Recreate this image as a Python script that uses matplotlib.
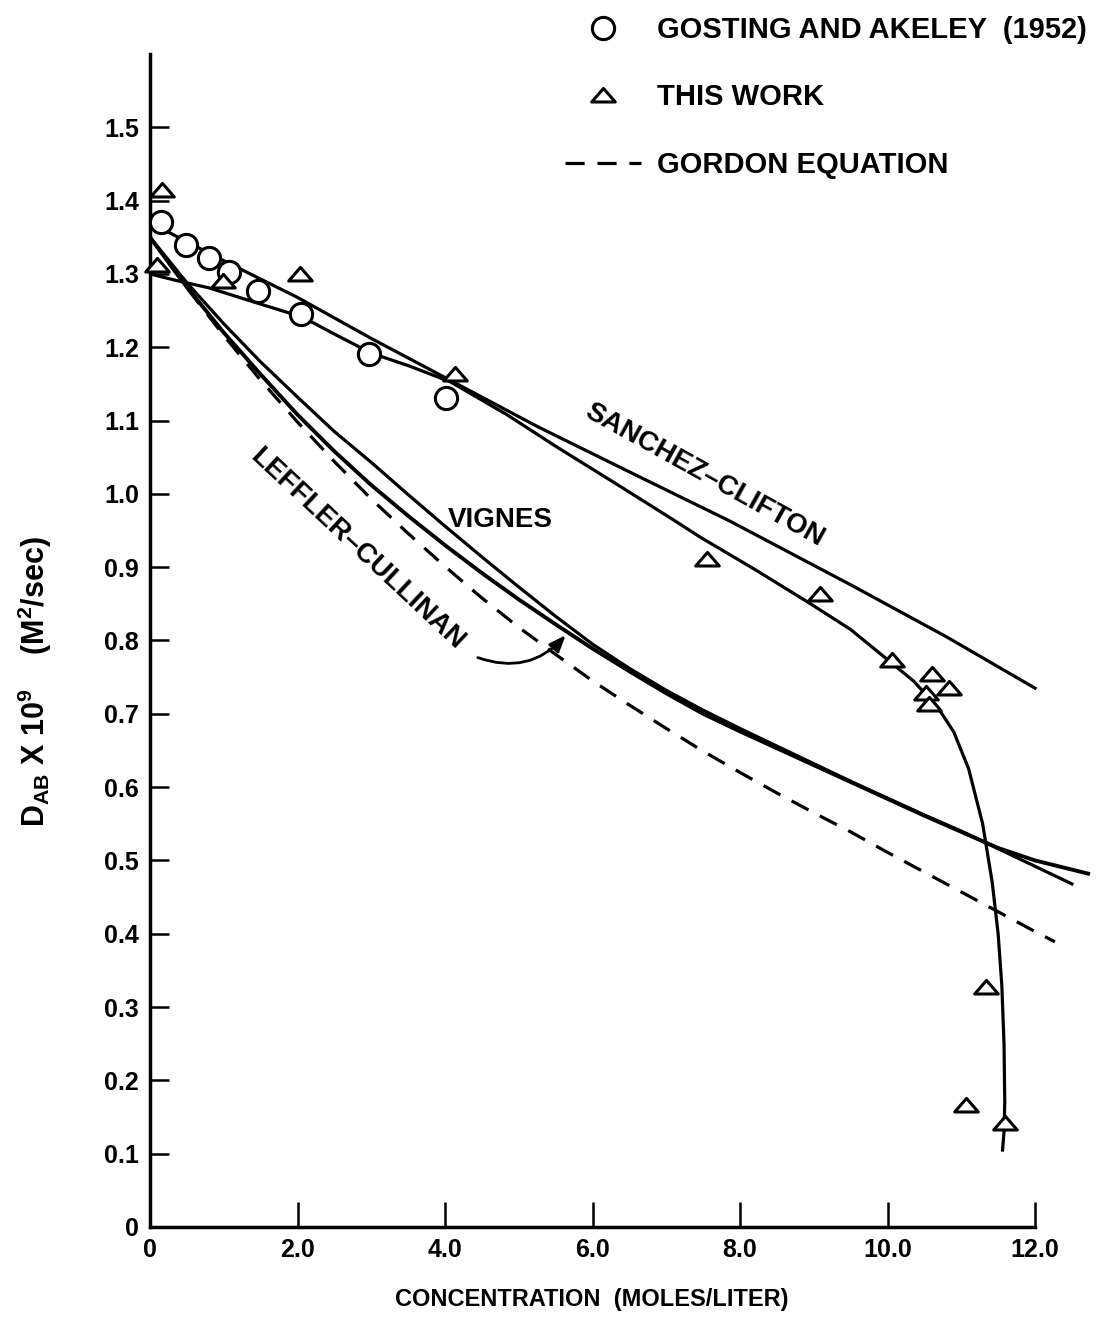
import numpy as np
import matplotlib.pyplot as plt
from matplotlib.path import Path

plt.rcParams['font.family'] = ['Liberation Sans', 'DejaVu Sans']
plt.rcParams['font.weight'] = 'bold'
plt.rcParams['axes.labelweight'] = 'bold'
plt.rcParams['mathtext.fontset'] = 'custom'
plt.rcParams['mathtext.rm'] = 'Liberation Sans:bold'
plt.rcParams['mathtext.bf'] = 'Liberation Sans:bold'

# Gosting and Akeley (1952) data (circles)
gosting_x = [0.15, 0.49, 0.80, 1.07, 1.46, 2.05, 2.97, 4.01]
gosting_y = [1.371, 1.340, 1.322, 1.303, 1.277, 1.246, 1.191, 1.131]

# this work (triangles)
work_x = [0.16, 0.10, 0.99, 2.04, 4.14, 7.55, 9.09, 10.06, 10.60, 10.52, 10.83, 10.56, 11.33, 11.07, 11.59]
work_y = [1.415, 1.312, 1.290, 1.300, 1.164, 0.911, 0.864, 0.774, 0.754, 0.729, 0.735, 0.713, 0.327, 0.166, 0.142]

# curve through this work's data
fit_x = [0, 0.4, 0.8, 1.4, 2.07, 2.5, 3.0, 3.5, 4.07, 4.84, 5.5, 6.3, 7.09, 7.46, 8.2, 8.91,
         9.5, 9.95, 10.35, 10.68, 10.9, 11.1, 11.29, 11.42, 11.5, 11.55, 11.58, 11.59, 11.58, 11.56]
fit_y = [1.30, 1.29, 1.281, 1.262, 1.241, 1.218, 1.192, 1.175, 1.153, 1.108, 1.065, 1.015, 0.965, 0.941,
         0.897, 0.853, 0.815, 0.778, 0.745, 0.709, 0.675, 0.625, 0.55, 0.47, 0.40, 0.33, 0.25, 0.17,
         0.13, 0.105]

# Sanchez-Clifton
sc_x = [0, 1, 2, 3, 4.07, 5.25, 6.5, 7.86, 9.5, 10.8, 12.0]
sc_y = [1.37, 1.318, 1.268, 1.212, 1.155, 1.092, 1.03, 0.963, 0.876, 0.805, 0.735]

# Vignes
vig_x = [0, 0.5, 1, 1.5, 2, 2.5, 3, 3.5, 4, 4.5, 5, 5.5, 6, 6.5, 7, 7.5, 8, 8.5, 9, 9.5, 10,
         10.5, 11, 11.5, 12, 12.5]
vig_y = [1.35, 1.288, 1.232, 1.18, 1.132, 1.085, 1.043, 0.999, 0.956, 0.914, 0.873, 0.833, 0.795,
         0.762, 0.732, 0.705, 0.68, 0.656, 0.632, 0.608, 0.585, 0.562, 0.54, 0.516, 0.492, 0.468]

# Leffler-Cullinan
lc_x = [0, 0.5, 1, 1.5, 2, 2.5, 3, 3.5, 4, 4.5, 5, 5.5, 6, 6.5, 7, 7.5, 8, 8.5, 9, 9.5, 10,
        10.5, 11, 11.5, 12, 12.72]
lc_y = [1.35, 1.282, 1.22, 1.163, 1.108, 1.058, 1.012, 0.97, 0.93, 0.892, 0.856, 0.822, 0.789,
        0.758, 0.728, 0.70, 0.676, 0.653, 0.63, 0.607, 0.584, 0.561, 0.539, 0.517, 0.50, 0.482]

# Gordon equation (dashed)
gor_x = [0, 0.5, 1, 1.5, 2, 2.5, 3, 3.5, 4, 4.5, 5, 5.5, 6, 6.5, 7, 7.5, 8, 8.5, 9, 9.5, 10,
         10.5, 11, 11.5, 12, 12.27]
gor_y = [1.35, 1.281, 1.216, 1.155, 1.098, 1.044, 0.993, 0.946, 0.901, 0.858, 0.818, 0.781,
         0.745, 0.712, 0.68, 0.649, 0.62, 0.592, 0.565, 0.539, 0.511, 0.484, 0.457, 0.43, 0.403, 0.389]

x_ticks = [0, 2, 4, 6, 8, 10, 12]
x_labels = ['0', '2.0', '4.0', '6.0', '8.0', '10.0', '12.0']
y_ticks = [0, 0.1, 0.2, 0.3, 0.4, 0.5, 0.6, 0.7, 0.8, 0.9, 1.0, 1.1, 1.2, 1.3, 1.4, 1.5]
y_labels = ['0'] + ['%.1f' % v for v in y_ticks[1:]]

# flattened triangle marker as in the original
tri = Path([(-1, -0.55), (1, -0.55), (0, 0.6), (-1, -0.55)],
           [Path.MOVETO, Path.LINETO, Path.LINETO, Path.CLOSEPOLY])

fig = plt.figure(figsize=(10.96, 13.33), dpi=100)
ax = fig.add_axes([150 / 1096, 106 / 1333, 944 / 1096, 1173 / 1333])

lw = 2.3
ax.plot(sc_x, sc_y, color='black', lw=lw)
ax.plot(fit_x, fit_y, color='black', lw=lw)
ax.plot(vig_x, vig_y, color='black', lw=lw)
ax.plot(lc_x, lc_y, color='black', lw=2.8)
gordon, = ax.plot(gor_x, gor_y, color='black', lw=2.3, dashes=(6, 4), label='GORDON EQUATION')

circ, = ax.plot(gosting_x, gosting_y, ls='none', marker='o', ms=16, mfc='white', mec='black',
                mew=2.2, label='GOSTING AND AKELEY  (1952)', zorder=5)
tris, = ax.plot(work_x, work_y, ls='none', marker=tri, ms=17, mfc='white', mec='black',
                mew=2.2, label='THIS WORK', zorder=5, clip_on=False)

ax.text(7.51, 1.026, 'SANCHEZ\u2013CLIFTON', rotation=-29, ha='center', va='center', fontsize=20)
ax.text(4.75, 0.965, 'VIGNES', ha='center', va='center', fontsize=20)
ax.text(2.81, 0.924, 'LEFFLER\u2013CULLINAN', rotation=-43, ha='center', va='center', fontsize=20)
ax.annotate('', xy=(5.66, 0.81), xytext=(4.41, 0.778),
            arrowprops=dict(arrowstyle='-|>,head_length=1.0,head_width=0.4', color='black', lw=2,
                            connectionstyle='arc3,rad=0.35'))

ax.set_xlim(0, 12.8)
ax.set_ylim(0, 1.6)
ax.spines['top'].set_visible(False)
ax.spines['right'].set_visible(False)
ax.spines['left'].set_bounds(0, 1.6)
ax.spines['bottom'].set_bounds(0, 12)
ax.spines['left'].set_linewidth(2.5)
ax.spines['bottom'].set_linewidth(2.5)

ax.set_xticks(x_ticks)
ax.set_xticklabels(x_labels)
ax.set_yticks(y_ticks)
ax.set_yticklabels(y_labels)
ax.tick_params(axis='x', direction='in', length=18, width=1.8, labelsize=18, pad=8)
ax.tick_params(axis='y', direction='in', length=14, width=1.8, labelsize=18, pad=8)

ax.set_xlabel('CONCENTRATION  (MOLES/LITER)', fontsize=17)
ax.xaxis.set_label_coords((592 - 150) / 944, -0.052)
ax.set_ylabel(r'D$_{\mathrm{AB}}$ X 10$^{\mathrm{9}}$    (M$^{\mathrm{2}}$/sec)', fontsize=22)
ax.yaxis.set_label_coords((54 - 150) / 944, 0.465)

ax.legend(handles=[circ, tris, gordon], loc='upper left', bbox_to_anchor=(565 / 1096, 0.988),
          bbox_transform=fig.transFigure, frameon=False, fontsize=21, handlelength=2.6,
          handletextpad=0.55, labelspacing=1.35, borderpad=0, borderaxespad=0, numpoints=1)

fig.savefig('out.png', dpi=100)
